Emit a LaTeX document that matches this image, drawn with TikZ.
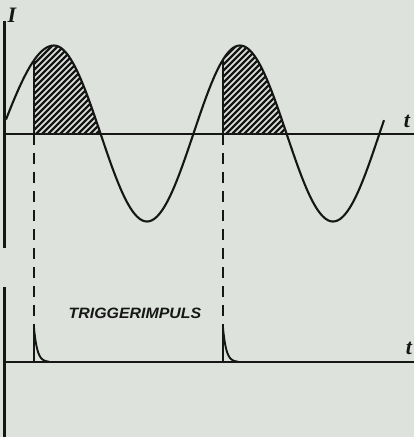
\documentclass[tikz,border=0pt]{standalone}
\usepackage{fontspec}
\newfontfamily\labelfont{Liberation Sans}
\newfontfamily\axfont{Liberation Serif}
\definecolor{paper}{RGB}{221,227,220}
\definecolor{ink}{RGB}{22,22,22}
\begin{document}
\begin{tikzpicture}[x=1pt,y=-1pt,
  axisline/.style={draw=ink,line width=2.3pt},
  wave/.style={draw=ink,line width=2.1pt,line join=round},
  hatchline/.style={draw=ink,line width=2.2pt},
  dashline/.style={draw=ink,line width=2.2pt,dash pattern=on 11pt off 8pt},
  pulse/.style={draw=ink,line width=1.9pt},
  axlabel/.style={font=\axfont\fontsize{22}{24}\selectfont\bfseries\itshape,text=ink,inner sep=0pt}]
\fill[paper] (0,0) rectangle (414,437);
\useasboundingbox (0,0) rectangle (414,437);
% coordinates
\coordinate (Atop) at (4.5,21);
\coordinate (Abot) at (4.5,248);
\coordinate (Btop) at (4.5,287);
\coordinate (Bbot) at (4.5,437);
\coordinate (X1l) at (4.5,134);
\coordinate (X1r) at (414,134);
\coordinate (X2l) at (4.5,362);
\coordinate (X2r) at (414,362);
\coordinate (T1a) at (34,134);
\coordinate (T1c) at (34,{133.5-88*sin(56.3)});
\coordinate (P1) at (34,328);
\coordinate (P1b) at (34,362);
\coordinate (T2a) at (223,134);
\coordinate (T2c) at (223,{133.5-88*cos((223-54)/186*360)});
\coordinate (P2) at (223,328);
\coordinate (P2b) at (223,362);
% hatched areas
\begin{scope}
\clip (T1a) -- plot[domain=34:54,samples=20] (\x,{133.5-88*sin(9.15+(\x-6)/48*80.85)})
  -- plot[domain=54:100.5,samples=30] (\x,{133.5-88*cos((\x-54)/186*360)}) -- cycle;
\foreach \k in {-60,-54,...,110} \draw[hatchline] (\k,140) -- ++(100,-100);
\end{scope}
\begin{scope}
\clip (T2a) -- plot[domain=223:287,samples=40] (\x,{133.5-88*cos((\x-54)/186*360)}) -- cycle;
\foreach \k in {130,136,...,300} \draw[hatchline] (\k,140) -- ++(100,-100);
\end{scope}
% axes
\draw[axisline] (Atop) -- (Abot);
\draw[axisline] (Btop) -- (Bbot);
\draw[axisline] (X1l) -- (X1r);
\draw[axisline] (X2l) -- (X2r);
% wave
\draw[wave] plot[domain=6:54,samples=30] (\x,{133.5-88*sin(9.15+(\x-6)/48*80.85)})
  -- plot[domain=54:384,samples=200] (\x,{133.5-88*cos((\x-54)/186*360)});
% trigger lines
\draw[axisline] (T1a) -- (T1c);
\draw[axisline] (T2a) -- (T2c);
\draw[dashline] (T1a) -- (P1);
\draw[dashline] (T2a) -- (P2);
% pulses
\draw[pulse] (P1b) -- (P1) -- plot[domain=34:49,samples=25] (\x,{362-34*exp(-(\x-34)/3.3)});
\draw[pulse] (P2b) -- (P2) -- plot[domain=223:238,samples=25] (\x,{362-34*exp(-(\x-223)/3.3)});
% labels
\node[axlabel] (lI) at (12,15) {I};
\node[axlabel] (lt1) at (407,121) {t};
\node[axlabel] (lt2) at (409,348) {t};
\node[inner sep=0pt,text=ink,font=\labelfont\fontsize{15}{18}\selectfont\bfseries\itshape] (trig) at (135,313) {\scalebox{1.06}[1]{TRIGGERIMPULS}};
\end{tikzpicture}
\end{document}
